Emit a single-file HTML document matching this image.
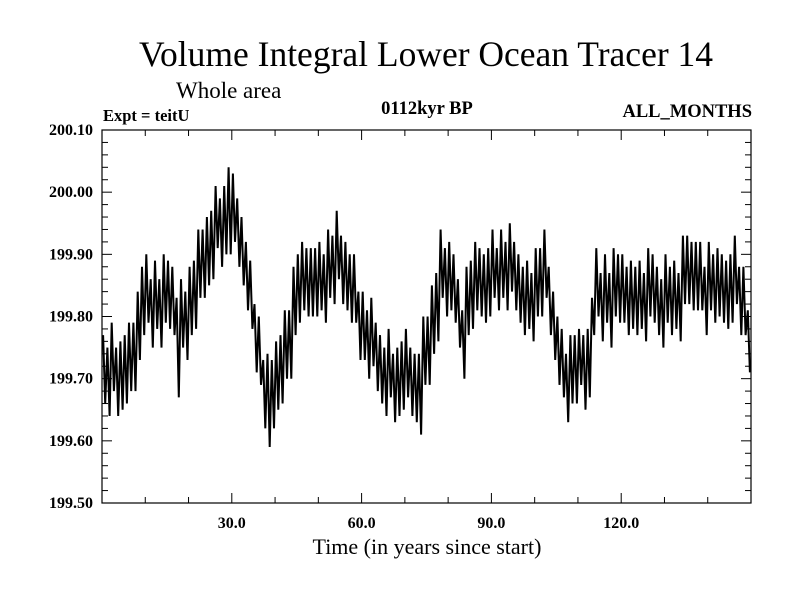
<!DOCTYPE html>
<html><head><meta charset="utf-8"><style>
body{margin:0;background:#fff}
svg text{font-family:"Liberation Serif",serif;fill:#000}
</style></head><body>
<svg id="chart" width="800" height="600" xmlns="http://www.w3.org/2000/svg">
<rect width="800" height="600" fill="#fff"/>
<text x="426" y="66" font-size="35.5" text-anchor="middle">Volume Integral Lower Ocean Tracer 14</text>
<text x="176" y="98" font-size="23">Whole area</text>
<text x="103" y="121" font-size="16.5" font-weight="bold">Expt = teitU</text>
<text x="427" y="114" font-size="18.5" font-weight="bold" text-anchor="middle">0112kyr BP</text>
<text x="752" y="117" font-size="18.5" font-weight="bold" text-anchor="end">ALL_MONTHS</text>
<text x="427" y="554" font-size="22" text-anchor="middle">Time (in years since start)</text>
<g id="axes"></g>
<path id="series" fill="none" stroke="#000" stroke-width="2"/>
<rect x="102" y="130" width="649" height="373" fill="none" stroke="#000" stroke-width="1.2"/>
</svg>
<script>
// data in hundredths above 199.00, one high and one low per year
const hiCenti = [77,75,79,75,76,77,79,79,84,88,90,86,89,86,90,89,88,83,86,84,88,89,94,94,96,97,101,99,101,104,103,99,96,92,89,82,80,73,74,73,76,77,81,81,88,90,92,91,91,91,92,90,94,93,97,93,92,90,90,84,84,81,83,79,77,75,78,74,75,76,78,75,74,74,80,80,85,87,94,91,92,90,86,81,88,89,92,91,90,91,94,91,94,92,95,92,90,88,89,87,91,91,94,88,84,80,78,74,77,77,78,77,78,83,91,87,90,87,91,90,90,88,89,88,89,87,91,90,88,86,90,88,89,87,93,93,92,92,92,88,92,90,91,90,89,90,93,88,88,81];
const loCenti = [66,64,68,64,65,66,68,68,73,77,79,75,78,75,79,78,77,67,75,73,77,78,83,83,85,86,91,88,90,90,92,88,85,81,78,71,69,62,59,62,65,66,70,70,77,79,81,80,80,80,81,79,83,82,86,82,81,79,79,73,73,70,72,68,66,64,67,63,64,65,67,64,63,61,69,69,74,76,83,80,81,79,75,70,77,78,81,80,79,80,83,81,83,81,84,81,79,77,78,76,80,80,83,77,73,69,67,63,66,66,69,65,67,77,80,76,79,75,80,79,79,77,78,77,78,76,80,79,77,75,79,77,78,76,82,82,81,81,81,77,81,79,80,79,78,79,82,77,77,71];
const yTicks = [199.5,199.6,199.7,199.8,199.9,200.0,200.1];
const yTickLabels = ["199.50","199.60","199.70","199.80","199.90","200.00","200.10"];
const xTicks = [30,60,90,120];
const xTickLabels = ["30.0","60.0","90.0","120.0"];

const X0=102,X1=751,Y0=503,Y1=130,xmin=0,xmax=150,ymin=199.5,ymax=200.1;
const xs=v=>X0+(v-xmin)/(xmax-xmin)*(X1-X0);
const ys=v=>Y0-(v-ymin)/(ymax-ymin)*(Y0-Y1);
const NS="http://www.w3.org/2000/svg";
const axes=document.getElementById('axes');
function ln(x1,y1,x2,y2,name){
  const l=document.createElementNS(NS,'line');
  l.setAttribute('x1',x1);l.setAttribute('y1',y1);l.setAttribute('x2',x2);l.setAttribute('y2',y2);
  l.setAttribute('stroke','#000');l.setAttribute('stroke-width','1');
  
  
  axes.appendChild(l);
}
function tx(x,y,s,anchor,name){
  const t=document.createElementNS(NS,'text');
  t.setAttribute('x',x);t.setAttribute('y',y);t.setAttribute('font-size','16');t.setAttribute('font-weight','bold');t.setAttribute('text-anchor',anchor);
  t.textContent=s;
  
  
  axes.appendChild(t);
}
for(let k=0;k<=30;k++){
  const v=ymin+k*0.02, y=ys(v), major=k%5===0, L=major?10:6;
  ln(X0,y,X0+L,y,'y-tick');
  ln(X1,y,X1-L,y,'y-tick-right');
}
yTicks.forEach((v,i)=>tx(93,ys(v)+5,yTickLabels[i],'end','y-tick-label'));
for(let k=10;k<150;k+=10){
  const x=xs(k), major=k%30===0, L=major?10:6;
  ln(x,Y0,x,Y0-L,'x-tick');
  ln(x,Y1,x,Y1+L,'x-tick-top');
}
xTicks.forEach((v,i)=>tx(xs(v),528,xTickLabels[i],'middle','x-tick-label'));
let d='';
for(let i=0;i<hiCenti.length;i++){
  const a=xs(i+0.25), b=ys(199+hiCenti[i]/100), c=xs(i+0.75), e=ys(199+loCenti[i]/100);
  d+=(i===0?'M':'L')+a.toFixed(1)+','+b.toFixed(1)+'L'+c.toFixed(1)+','+e.toFixed(1);
}
document.getElementById('series').setAttribute('d',d);
</script>
</body></html>
